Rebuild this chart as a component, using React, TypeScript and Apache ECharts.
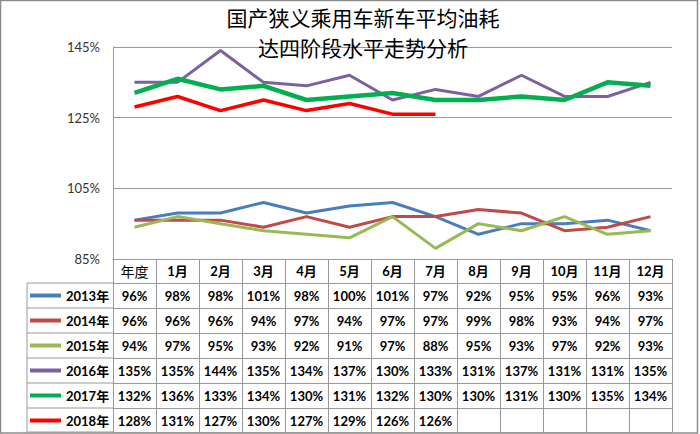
import React, { useEffect, useRef } from 'react';
import * as echarts from 'echarts';

const categories = ['年度', '1月', '2月', '3月', '4月', '5月', '6月', '7月', '8月', '9月', '10月', '11月', '12月'];
const seriesNames = ['2013年', '2014年', '2015年', '2016年', '2017年', '2018年'];
const v2013 = [96, 98, 98, 101, 98, 100, 101, 97, 92, 95, 95, 96, 93];
const v2014 = [96, 96, 96, 94, 97, 94, 97, 97, 99, 98, 93, 94, 97];
const v2015 = [94, 97, 95, 93, 92, 91, 97, 88, 95, 93, 97, 92, 93];
const v2016 = [135, 135, 144, 135, 134, 137, 130, 133, 131, 137, 131, 131, 135];
const v2017 = [132, 136, 133, 134, 130, 131, 132, 130, 130, 131, 130, 135, 134];
const v2018 = [128, 131, 127, 130, 127, 129, 126, 126];
const yTicks = [85, 105, 125, 145];

const allValues = [v2013, v2014, v2015, v2016, v2017, v2018];
const colors = ['#4A7EBB', '#BE4B48', '#98B954', '#7D60A0', '#00B050', '#FF0000'];
const widths = [3, 3, 3, 3, 4.5, 3.5];

const BASE = yTicks[0];
const FONT = "Lato, 'Noto Sans CJK SC', sans-serif";
const GRID = '#999999';

const GRID_LEFT = 113;
const GRID_RIGHT = 28;
const GRID_TOP = 47;
const PLOT_BOTTOM = 259;
const HEADER_H = 24;
const ROW_H = 25;
const TABLE_LEFT = 27;

export default function App() {
  const ref = useRef<HTMLDivElement>(null);
  useEffect(() => {
    const chart = echarts.init(ref.current!, undefined, { renderer: 'svg' });

    const xAxes: any[] = [];
    xAxes.push({
      type: 'category',
      data: categories,
      position: 'bottom',
      offset: 0,
      boundaryGap: true,
      axisLine: { show: true, lineStyle: { color: GRID, width: 1 } },
      axisTick: { show: true, length: HEADER_H, lineStyle: { color: GRID, width: 1 } },
      axisLabel: {
        interval: 0, margin: 0, lineHeight: HEADER_H, fontSize: 13, fontWeight: 'bold', color: '#000', fontFamily: FONT,
        formatter: (v: string, i: number) => (i === 0 ? '{n|' + v + '}' : v),
        rich: { n: { fontSize: 14, fontWeight: 'normal', color: '#000', lineHeight: HEADER_H, fontFamily: "'Noto Sans CJK SC', sans-serif" } },
      },
      splitLine: { show: false },
    });
    allValues.forEach((vals, k) => {
      xAxes.push({
        type: 'category',
        data: categories,
        position: 'bottom',
        offset: HEADER_H + ROW_H * k,
        boundaryGap: true,
        axisLine: { show: true, lineStyle: { color: GRID, width: 1 } },
        axisTick: { show: true, length: k === 5 ? ROW_H - 1 : ROW_H, lineStyle: { color: GRID, width: 1 } },
        axisLabel: {
          interval: 0, margin: 0, lineHeight: ROW_H, fontSize: 13, fontWeight: 'bold', color: '#000', fontFamily: FONT,
          formatter: (_v: string, i: number) => (vals[i] != null ? vals[i] + '%' : ''),
        },
        splitLine: { show: false },
      });
    });
    const tableBottomOffset = HEADER_H + ROW_H * 6 - 1;
    xAxes.push({
      type: 'category',
      data: categories,
      position: 'bottom',
      offset: tableBottomOffset,
      boundaryGap: true,
      axisLine: { show: true, lineStyle: { color: GRID, width: 1 } },
      axisTick: { show: false },
      axisLabel: { show: false },
      splitLine: { show: false },
    });

    const rowsTop = PLOT_BOTTOM + HEADER_H;
    const tableBottom = PLOT_BOTTOM + tableBottomOffset;
    const graphics: any[] = [
      {
        type: 'rect',
        shape: { x: 0.5, y: 0.5, width: 697, height: 432.5 },
        style: { fill: 'none', stroke: '#8c8c8c', lineWidth: 1.5 },
        silent: true,
      },
      {
        type: 'line',
        shape: { x1: TABLE_LEFT, y1: rowsTop, x2: TABLE_LEFT, y2: tableBottom },
        style: { stroke: GRID, lineWidth: 1 },
      },
    ];
    for (let i = 0; i <= seriesNames.length; i++) {
      const y = Math.min(rowsTop + ROW_H * i, tableBottom);
      graphics.push({
        type: 'line',
        shape: { x1: TABLE_LEFT, y1: y, x2: GRID_LEFT, y2: y },
        style: { stroke: GRID, lineWidth: 1 },
      });
    }

    const option: any = {
      animation: false,
      backgroundColor: '#fff',
      title: {
        text: '国产狭义乘用车新车平均油耗\n达四阶段水平走势分析',
        left: 363,
        top: 2,
        padding: 0,
        textAlign: 'center',
        textStyle: { fontSize: 21, fontWeight: 'normal', lineHeight: 30, color: '#000', fontFamily: "'Noto Sans CJK SC', sans-serif" },
      },
      legend: {
        data: seriesNames,
        orient: 'vertical',
        left: TABLE_LEFT + 3,
        top: rowsTop,
        padding: 0,
        itemGap: 0,
        itemWidth: 31,
        itemHeight: 4,
        icon: 'rect',
        selectedMode: false,
        textStyle: { fontSize: 13, fontWeight: 'bold', color: '#000', lineHeight: ROW_H, fontFamily: FONT },
      },
      grid: { left: GRID_LEFT, right: GRID_RIGHT, top: GRID_TOP, bottom: 434 - PLOT_BOTTOM, containLabel: false },
      xAxis: xAxes,
      yAxis: {
        type: 'value',
        min: 0,
        max: yTicks[yTicks.length - 1] - BASE,
        interval: yTicks[1] - yTicks[0],
        axisLine: { show: true, lineStyle: { color: GRID, width: 1 } },
        axisTick: { show: false },
        axisLabel: { formatter: (v: number) => v + BASE + '%', fontSize: 13, color: '#333', margin: 13, fontFamily: FONT },
        splitLine: { show: true, lineStyle: { color: GRID, width: 1 } },
      },
      graphic: graphics,
      series: allValues.map((vals, k) => ({
        name: seriesNames[k],
        type: 'line',
        xAxisIndex: 0,
        data: vals.map((v) => v - BASE),
        symbol: 'none',
        lineStyle: { color: colors[k], width: widths[k] },
        itemStyle: { color: colors[k] },
        z: 3 + k,
      })),
    };
    chart.setOption(option);
    return () => chart.dispose();
  }, []);
  return <div ref={ref} style={{ position: 'absolute', left: 0, top: 0, width: 700, height: 434 }} />;
}
